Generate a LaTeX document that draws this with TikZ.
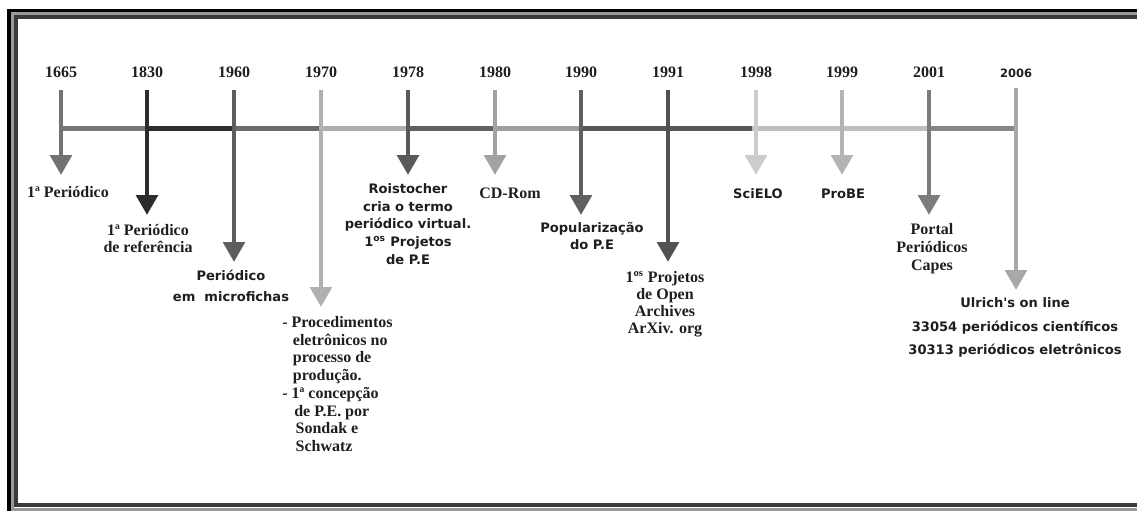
\documentclass[tikz,border=0pt]{standalone}
\usepackage{fontspec}
\setmainfont{Liberation Serif}
\newfontfamily\vsans{DejaVu Sans}
\usetikzlibrary{arrows.meta, positioning}
\usepackage{xcolor}
\definecolor{ink}{HTML}{1E1E1E}
\definecolor{framegray}{HTML}{3A3A3A}
\definecolor{c1665}{HTML}{727272}
\definecolor{c1830}{HTML}{2C2C2C}
\definecolor{c1960}{HTML}{5E5E5E}
\definecolor{c1970}{HTML}{B0B0B0}
\definecolor{c1978}{HTML}{5A5A5A}
\definecolor{c1980}{HTML}{A2A2A2}
\definecolor{c1990}{HTML}{606060}
\definecolor{c1991}{HTML}{525252}
\definecolor{c1998}{HTML}{CCCCCC}
\definecolor{c1999}{HTML}{B4B4B4}
\definecolor{c2001}{HTML}{7C7C7C}
\definecolor{c2006}{HTML}{A8A8A8}

\begin{document}
\begin{tikzpicture}[x=0.75pt, y=-0.75pt,
    yr/.style={font=\bfseries\fontsize{12}{12}\selectfont, text=ink, inner sep=0pt, anchor=south},
    lbl/.style={font=\bfseries\fontsize{12}{12.75}\selectfont, text=ink, align=center, inner sep=0pt},
    slbl/.style={font=\vsans\bfseries\fontsize{9.8}{13.2}\selectfont, text=ink, align=center, inner sep=0pt},
    axis/.style={line width=3.75pt},
    shaft/.style={line width=3.6pt, shorten <=9pt, -{Triangle[width=16pt,length=15pt]}}]
    \useasboundingbox (0,0) rectangle (1137,510);
    \clip (0,0) rectangle (1137,510);
    % frame
    \draw[line width=3pt, black] (9,11) rectangle (1220,540);
    \draw[line width=2.25pt, black!40] (12.5,14) rectangle (1215,509);
    \draw[line width=3pt, framegray] (16,17) rectangle (1210,505);

    % years
    \node[yr] (y1665) at (61,78) {1665};
    \node[yr] (y1830) at (147,78) {1830};
    \node[yr] (y1960) at (234,78) {1960};
    \node[yr] (y1970) at (321,78) {1970};
    \node[yr] (y1978) at (408,78) {1978};
    \node[yr] (y1980) at (495,78) {1980};
    \node[yr] (y1990) at (581,78) {1990};
    \node[yr] (y1991) at (668,78) {1991};
    \node[yr] (y1998) at (756,78) {1998};
    \node[yr] (y1999) at (842,78) {1999};
    \node[yr] (y2001) at (929,78) {2001};
    \node[yr, font=\vsans\bfseries\fontsize{8.6}{8.6}\selectfont] (y2006) at (1016,78) {2006};

    % time line
    \coordinate (a1665) at (61,128);
    \coordinate (a1830) at (147,128);
    \coordinate (a1960) at (234,128);
    \coordinate (a1970) at (321,128);
    \coordinate (a1978) at (408,128);
    \coordinate (a1980) at (495,128);
    \coordinate (a1990) at (581,128);
    \coordinate (a1991) at (668,128);
    \coordinate (a1998) at (752,128);
    \coordinate (a2001) at (929,128);
    \coordinate (a2006) at (1016,128);
    \draw[axis, black!53] (a1665) -- (a1830);
    \draw[axis, black!82] (a1830) -- (a1960);
    \draw[axis, black!58] (a1960) -- (a1970);
    \draw[axis, black!32] (a1970) -- (a1978);
    \draw[axis, black!62] (a1978) -- (a1980);
    \draw[axis, black!38] (a1980) -- (a1990);
    \draw[axis, black!66] (a1990) -- (a1991) -- (a1998);
    \draw[axis, black!25] (a1998) -- (a2001);
    \draw[axis, black!47] (a2001) -- (a2006);

    % arrow tips
    \coordinate (t1665) at (61,175);
    \coordinate (t1830) at (147,215);
    \coordinate (t1960) at (234,262);
    \coordinate (t1970) at (321,307);
    \coordinate (t1978) at (408,175);
    \coordinate (t1980) at (495,175);
    \coordinate (t1990) at (581,215);
    \coordinate (t1991) at (668,262);
    \coordinate (t1998) at (756,175);
    \coordinate (t1999) at (842,175);
    \coordinate (t2001) at (929,215);
    \coordinate (t2006) at (1016,290);
    \draw[shaft, c1665] (y1665.south) -- (t1665);
    \draw[shaft, c1830] (y1830.south) -- (t1830);
    \draw[shaft, c1960] (y1960.south) -- (t1960);
    \draw[shaft, c1970] (y1970.south) -- (t1970);
    \draw[shaft, c1978] (y1978.south) -- (t1978);
    \draw[shaft, c1980] (y1980.south) -- (t1980);
    \draw[shaft, c1990] (y1990.south) -- (t1990);
    \draw[shaft, c1991] (y1991.south) -- (t1991);
    \draw[shaft, c1998] (y1998.south) -- (t1998);
    \draw[shaft, c1999] (y1999.south) -- (t1999);
    \draw[shaft, c2001] (y2001.south) -- (t2001);
    \draw[shaft, c2006, shorten <=7.5pt] (y2006.south) -- (t2006);

    % events
    \node[lbl] (l1665) at (68,192) {1ª Periódico};
    \node[lbl] (l1830) at (148,238.5) {1ª Periódico\\de referência};
    \node[slbl] (l1960) at (231,285.5) {Periódico\\[2.5pt]em\ \ microfichas};
    \node[lbl, align=left, anchor=north west, font=\bfseries\fontsize{12}{13.3}\selectfont] (l1970) at (282,316)
        {- Procedimentos\\\hspace*{8pt}eletrônicos no\\\hspace*{8pt}processo de\\\hspace*{8pt}produção.\\- 1ª concepção\\\hspace*{9pt}de P.E. por\\\hspace*{10pt}Sondak e\\\hspace*{10pt}Schwatz};
    \node[slbl] (l1978) at (408,224) {Roistocher\\cria o termo\\periódico virtual.\\1\textsuperscript{os} Projetos\\de P.E};
    \node[lbl] (l1980) at (510,193) {CD-Rom};
    \node[slbl] (l1990) at (592,236) {Popularização\\[-1pt]do P.E};
    \node[lbl] (l1991) at (665,304.5) {1\textsuperscript{os} Projetos\\de Open\\Archives\\ArXiv. org};
    \node[slbl] (l1998) at (758,194) {SciELO};
    \node[slbl] (l1999) at (843,194) {ProBE};
    \node[lbl] (l2001) at (932,248.5) {Portal\\[1pt]Periódicos\\[1pt]Capes};
    \node[slbl] (l2006) at (1015,327.5) {Ulrich's on line\\[4.4pt]33054 periódicos científicos\\[4.4pt]30313 periódicos eletrônicos};
\end{tikzpicture}
\end{document}
